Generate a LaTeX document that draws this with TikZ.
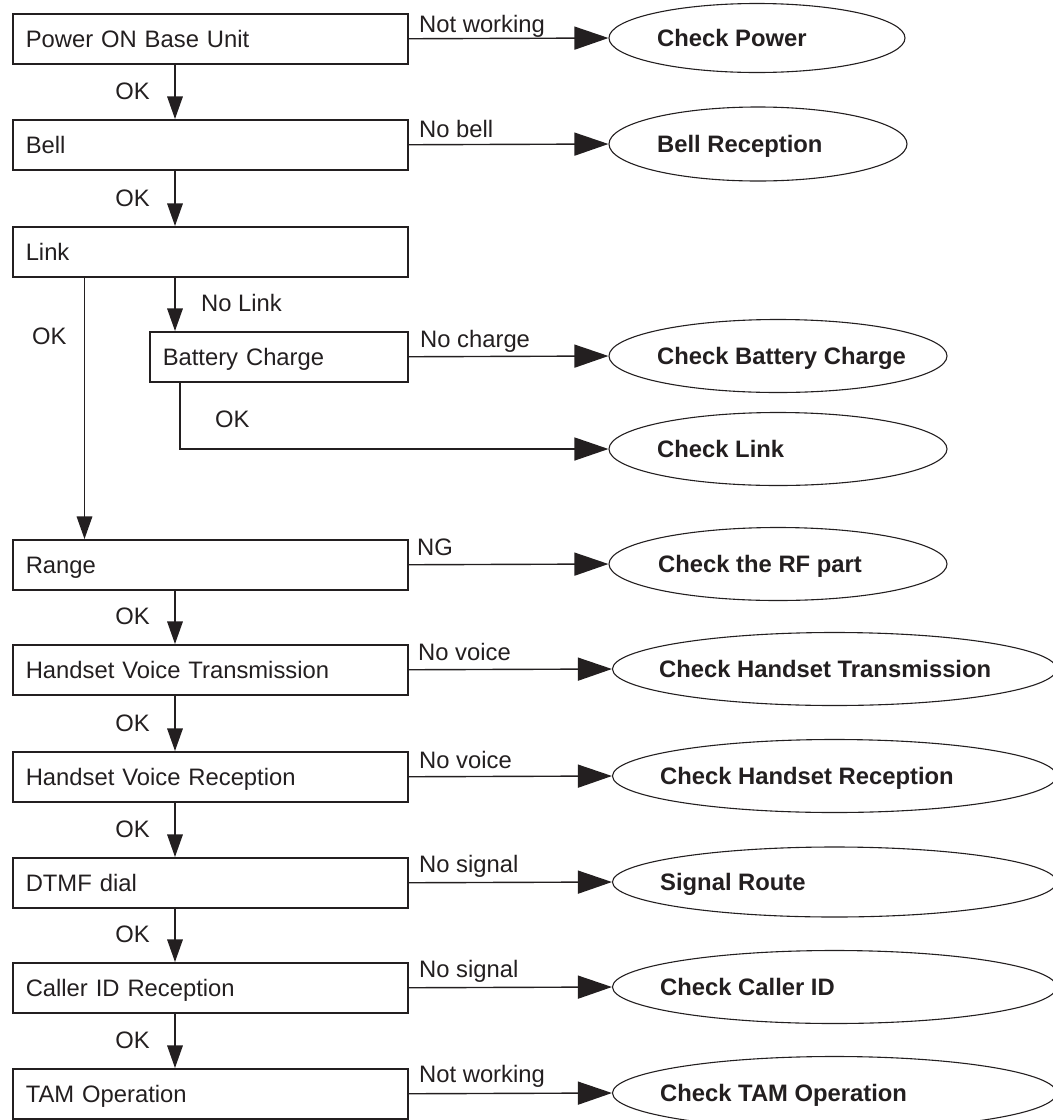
\documentclass[tikz,border=0pt]{standalone}
\usepackage{fontspec}
\setmainfont{Liberation Sans}
\usetikzlibrary{shapes.geometric,arrows.meta}
\definecolor{ink}{HTML}{231F20}
\begin{document}
\begin{tikzpicture}[x=1pt,y=-1pt,
  every node/.style={text=ink, font=\fontsize{23.8}{28}\selectfont},
  box/.style={draw=ink, line width=1.5pt, minimum height=50pt, inner xsep=13pt, inner ysep=0pt,
              text height=17pt, text depth=0pt, align=left, anchor=north west},
  mainbox/.style={box, text width=369pt},
  ell/.style={draw=ink, ellipse, line width=1.1pt, inner sep=0pt, minimum height=73pt},
  etext/.style={anchor=west, inner sep=0pt, text height=17pt, text depth=0pt, font=\fontsize{23.8}{28}\selectfont\bfseries},
  lab/.style={anchor=base west, inner sep=0pt},
  oklab/.style={anchor=base east, inner sep=0pt},
  harrow/.style={draw=ink, line width=1.4pt, -{Triangle[length=34pt,width=23pt]}},
  varrow/.style={draw=ink, line width=1.4pt, -{Triangle[length=22.6pt,width=15.6pt]}},
  hline/.style={draw=ink, line width=1.4pt}
]
\useasboundingbox (0,0) rectangle (1053,1120);

% process boxes
\node[mainbox] (pw)    at (12,13)   {Power ON Base Unit};
\node[mainbox] (bell)  at (12,119)  {Bell};
\node[mainbox] (link)  at (12,226)  {Link};
\node[box, text width=232pt] (bat) at (149,331) {Battery Charge};
\node[mainbox] (range) at (12,539)  {Range};
\node[mainbox] (hvt)   at (12,644)  {Handset Voice Transmission};
\node[mainbox] (hvr)   at (12,751)  {Handset Voice Reception};
\node[mainbox] (dtmf)  at (12,857)  {DTMF dial};
\node[mainbox] (cid)   at (12,962)  {Caller ID Reception};
\node[mainbox] (tam)   at (12,1068) {TAM Operation};

% terminal ellipses
\node[ell, minimum width=296pt, minimum height=69pt] (e1) at (757,38) {};
\node[ell, minimum width=298pt, minimum height=74pt] (e2) at (758,144) {};
\node[ell, minimum width=338pt] (e3) at (778,356) {};
\node[ell, minimum width=338pt] (e4) at (778,449) {};
\node[ell, minimum width=338pt] (e5) at (778,564) {};
\node[ell, minimum width=444pt] (e6) at (834.5,669) {};
\node[ell, minimum width=444pt] (e7) at (834.5,776) {};
\node[ell, minimum width=444pt, minimum height=70pt] (e8) at (834.5,882) {};
\node[ell, minimum width=444pt] (e9) at (834.5,987) {};
\node[ell, minimum width=444pt] (e10) at (834.5,1093) {};

\node[etext] (t1) at (657,38)  {Check Power};
\node[etext] (t2) at (657,144) {Bell Reception};
\node[etext] (t3) at (657,356) {Check Battery Charge};
\node[etext] (t4) at (657,449) {Check Link};
\node[etext] (t5) at (658,564) {Check the RF part};
\node[etext] (t6) at (659,669) {Check Handset Transmission};
\node[etext] (t7) at (660,776) {Check Handset Reception};
\node[etext] (t8) at (660,882) {Signal Route};
\node[etext] (t9) at (660,987) {Check Caller ID};
\node[etext] (t10) at (660,1093) {Check TAM Operation};

% horizontal arrows to ellipses
\draw[harrow] (pw.east) -- (e1.west);
\draw[harrow] (bell.east) -- (e2.west);
\draw[harrow] (bat.east) -- (e3.west);
\draw[harrow] (range.east) -- (e5.west);
\draw[harrow] (hvt.east) -- (e6.west);
\draw[harrow] (hvr.east) -- (e7.west);
\draw[harrow] (dtmf.east) -- (e8.west);
\draw[harrow] (cid.east) -- (e9.west);
\draw[harrow] (tam.east) -- (e10.west);

% labels on horizontal arrows
\node[lab] (l1) at (419,32.5)  {Not working};
\node[lab] (l2) at (419,137.5) {No bell};
\node[lab] (l3) at (420,347)   {No charge};
\node[lab] (l5) at (417,555)   {NG};
\node[lab] (l6) at (418,660)   {No voice};
\node[lab] (l7) at (419,768)   {No voice};
\node[lab] (l8) at (419,872.5) {No signal};
\node[lab] (l9) at (419,977.5) {No signal};
\node[lab] (l10) at (419,1082.5) {Not working};

% vertical flow
\coordinate (mx) at (175,0);
\coordinate (lx) at (84.5,0);
\coordinate (bx) at (180,0);
\draw[varrow] (pw.south -| mx) -- (bell.north -| mx);
\draw[varrow] (bell.south -| mx) -- (link.north -| mx);
\draw[varrow] (link.south -| mx) -- (bat.north -| mx);
\draw[varrow] (link.south -| lx) -- (range.north -| lx);
\draw[harrow] (bat.south -| bx) |- (e4.west);
\draw[varrow] (range.south -| mx) -- (hvt.north -| mx);
\draw[varrow] (hvt.south -| mx) -- (hvr.north -| mx);
\draw[varrow] (hvr.south -| mx) -- (dtmf.north -| mx);
\draw[varrow] (dtmf.south -| mx) -- (cid.north -| mx);
\draw[varrow] (cid.south -| mx) -- (tam.north -| mx);

% OK labels
\node[oklab] (ok1) at (150,99)   {OK};
\node[oklab] (ok2) at (150,206)  {OK};
\node[lab]   (ok3) at (32,344)   {OK};
\node[lab]   (nl)  at (201,311)  {No Link};
\node[lab]   (ok4) at (215,427)  {OK};
\node[oklab] (ok5) at (150,624)  {OK};
\node[oklab] (ok6) at (150,731)  {OK};
\node[oklab] (ok7) at (150,837)  {OK};
\node[oklab] (ok8) at (150,942)  {OK};
\node[oklab] (ok9) at (150,1048) {OK};
\end{tikzpicture}
\end{document}
